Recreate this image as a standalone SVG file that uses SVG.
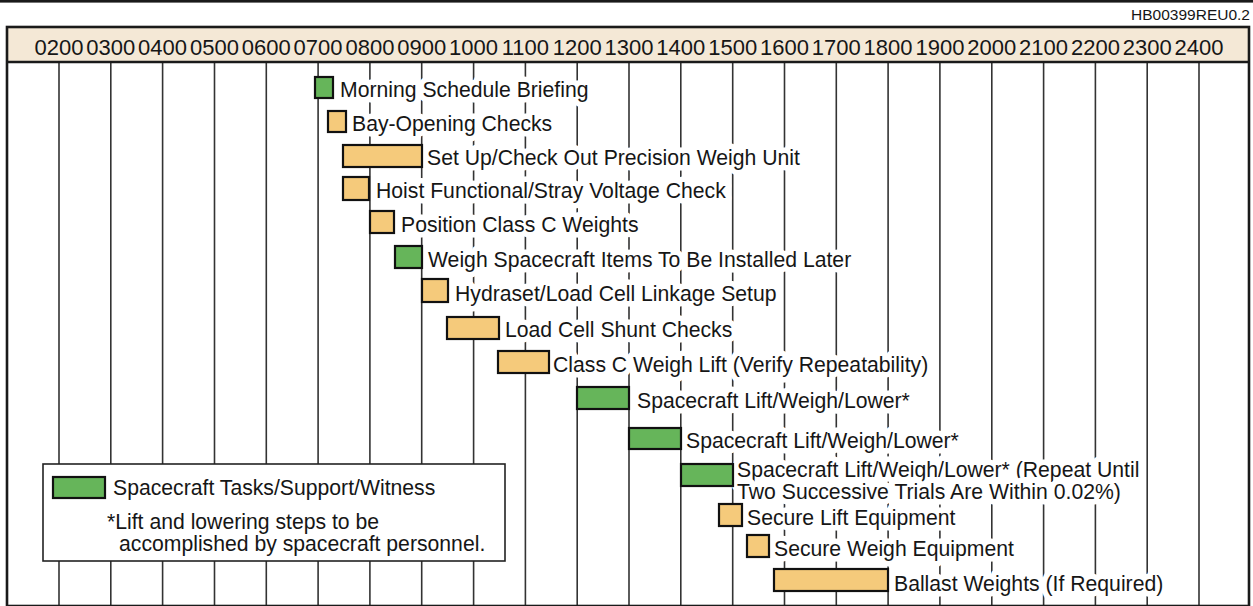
<svg xmlns="http://www.w3.org/2000/svg" width="1253" height="606" viewBox="0 0 1253 606">
<style>
text{font-family:"Liberation Sans",Arial,Helvetica,sans-serif;fill:#161616}
.hdr{font-size:22px;text-anchor:middle}
.lbl{font-size:21.2px;stroke:#fff;stroke-width:11;stroke-linejoin:round;paint-order:stroke}
.leg{font-size:21.2px}
.grid line{stroke:#333;stroke-width:1.6}
.g{fill:#66b55a;stroke:#111;stroke-width:2.2}
.o{fill:#f5ca7b;stroke:#111;stroke-width:2.2}
</style>
<rect x="0" y="0" width="1253" height="2.6" fill="#1a1a1a"/>
<text x="1250" y="20" font-size="15.5" text-anchor="end">HB00399REU0.2</text>
<rect x="7" y="27" width="1242" height="35" fill="#f4e8d6"/>
<g id="axis">
<text class="hdr" x="59" y="55">0200</text>
<text class="hdr" x="110.8" y="55">0300</text>
<text class="hdr" x="162.6" y="55">0400</text>
<text class="hdr" x="214.5" y="55">0500</text>
<text class="hdr" x="266.3" y="55">0600</text>
<text class="hdr" x="318.1" y="55">0700</text>
<text class="hdr" x="369.9" y="55">0800</text>
<text class="hdr" x="421.7" y="55">0900</text>
<text class="hdr" x="473.6" y="55">1000</text>
<text class="hdr" x="525.4" y="55">1100</text>
<text class="hdr" x="577.2" y="55">1200</text>
<text class="hdr" x="629" y="55">1300</text>
<text class="hdr" x="680.8" y="55">1400</text>
<text class="hdr" x="732.7" y="55">1500</text>
<text class="hdr" x="784.5" y="55">1600</text>
<text class="hdr" x="836.3" y="55">1700</text>
<text class="hdr" x="888.1" y="55">1800</text>
<text class="hdr" x="939.9" y="55">1900</text>
<text class="hdr" x="991.8" y="55">2000</text>
<text class="hdr" x="1043.6" y="55">2100</text>
<text class="hdr" x="1095.4" y="55">2200</text>
<text class="hdr" x="1147.2" y="55">2300</text>
<text class="hdr" x="1199" y="55">2400</text>
</g>
<g id="grid" class="grid">
<line x1="59" y1="62" x2="59" y2="606"/>
<line x1="110.8" y1="62" x2="110.8" y2="606"/>
<line x1="162.6" y1="62" x2="162.6" y2="606"/>
<line x1="214.5" y1="62" x2="214.5" y2="606"/>
<line x1="266.3" y1="62" x2="266.3" y2="606"/>
<line x1="318.1" y1="62" x2="318.1" y2="606"/>
<line x1="369.9" y1="62" x2="369.9" y2="606"/>
<line x1="421.7" y1="62" x2="421.7" y2="606"/>
<line x1="473.6" y1="62" x2="473.6" y2="606"/>
<line x1="525.4" y1="62" x2="525.4" y2="606"/>
<line x1="577.2" y1="62" x2="577.2" y2="606"/>
<line x1="629" y1="62" x2="629" y2="606"/>
<line x1="680.8" y1="62" x2="680.8" y2="606"/>
<line x1="732.7" y1="62" x2="732.7" y2="606"/>
<line x1="784.5" y1="62" x2="784.5" y2="606"/>
<line x1="836.3" y1="62" x2="836.3" y2="606"/>
<line x1="888.1" y1="62" x2="888.1" y2="606"/>
<line x1="939.9" y1="62" x2="939.9" y2="606"/>
<line x1="991.8" y1="62" x2="991.8" y2="606"/>
<line x1="1043.6" y1="62" x2="1043.6" y2="606"/>
<line x1="1095.4" y1="62" x2="1095.4" y2="606"/>
<line x1="1147.2" y1="62" x2="1147.2" y2="606"/>
<line x1="1199" y1="62" x2="1199" y2="606"/>
</g>
<g id="task1"><text class="lbl" x="340" y="97">Morning Schedule Briefing</text><rect class="g" x="315" y="77" width="18" height="21"/></g>
<g id="task2"><text class="lbl" x="352" y="131">Bay-Opening Checks</text><rect class="o" x="328" y="111" width="18" height="21"/></g>
<g id="task3"><text class="lbl" x="427" y="165">Set Up/Check Out Precision Weigh Unit</text><rect class="o" x="343" y="145" width="79" height="22"/></g>
<g id="task4"><text class="lbl" x="376" y="198">Hoist Functional/Stray Voltage Check</text><rect class="o" x="343" y="177" width="26" height="23"/></g>
<g id="task5"><text class="lbl" x="401" y="232">Position Class C Weights</text><rect class="o" x="370" y="211" width="24" height="22"/></g>
<g id="task6"><text class="lbl" x="428" y="267">Weigh Spacecraft Items To Be Installed Later</text><rect class="g" x="395" y="246" width="27" height="22"/></g>
<g id="task7"><text class="lbl" x="455" y="301">Hydraset/Load Cell Linkage Setup</text><rect class="o" x="422" y="279" width="26" height="23"/></g>
<g id="task8"><text class="lbl" x="505" y="337">Load Cell Shunt Checks</text><rect class="o" x="447" y="317" width="52" height="22"/></g>
<g id="task9"><text class="lbl" x="553" y="372">Class C Weigh Lift (Verify Repeatability)</text><rect class="o" x="498" y="351" width="51" height="22"/></g>
<g id="task10"><text class="lbl" x="637" y="408">Spacecraft Lift/Weigh/Lower*</text><rect class="g" x="577" y="387" width="52" height="22"/></g>
<g id="task11"><text class="lbl" x="686" y="448">Spacecraft Lift/Weigh/Lower*</text><rect class="g" x="629" y="428" width="52" height="21"/></g>
<g id="task12"><text class="lbl" x="737" y="477">Spacecraft Lift/Weigh/Lower* (Repeat Until<tspan x="737" y="499">Two Successive Trials Are Within 0.02%)</tspan></text><rect class="g" x="681" y="464" width="52" height="22"/></g>
<g id="task13"><text class="lbl" x="747" y="525">Secure Lift Equipment</text><rect class="o" x="719" y="504" width="23" height="22"/></g>
<g id="task14"><text class="lbl" x="774" y="556">Secure Weigh Equipment</text><rect class="o" x="747" y="535" width="22" height="22"/></g>
<g id="task15"><text class="lbl" x="894" y="591">Ballast Weights (If Required)</text><rect class="o" x="774" y="569" width="114" height="22"/></g>
<g id="legend">
<rect x="43" y="464" width="462" height="97" fill="#fff" stroke="#222" stroke-width="1.6"/>
<rect class="g" x="53" y="477" width="52" height="21"/>
<text class="leg" x="113" y="495">Spacecraft Tasks/Support/Witness</text>
<text class="leg" x="107" y="529">*Lift and lowering steps to be</text>
<text class="leg" x="119" y="551">accomplished by spacecraft personnel.</text>
</g>
<line x1="7" y1="62" x2="1249" y2="62" stroke="#1a1a1a" stroke-width="2.4"/>
<rect x="7" y="27" width="1242" height="579" fill="none" stroke="#1a1a1a" stroke-width="2.6"/>
</svg>
